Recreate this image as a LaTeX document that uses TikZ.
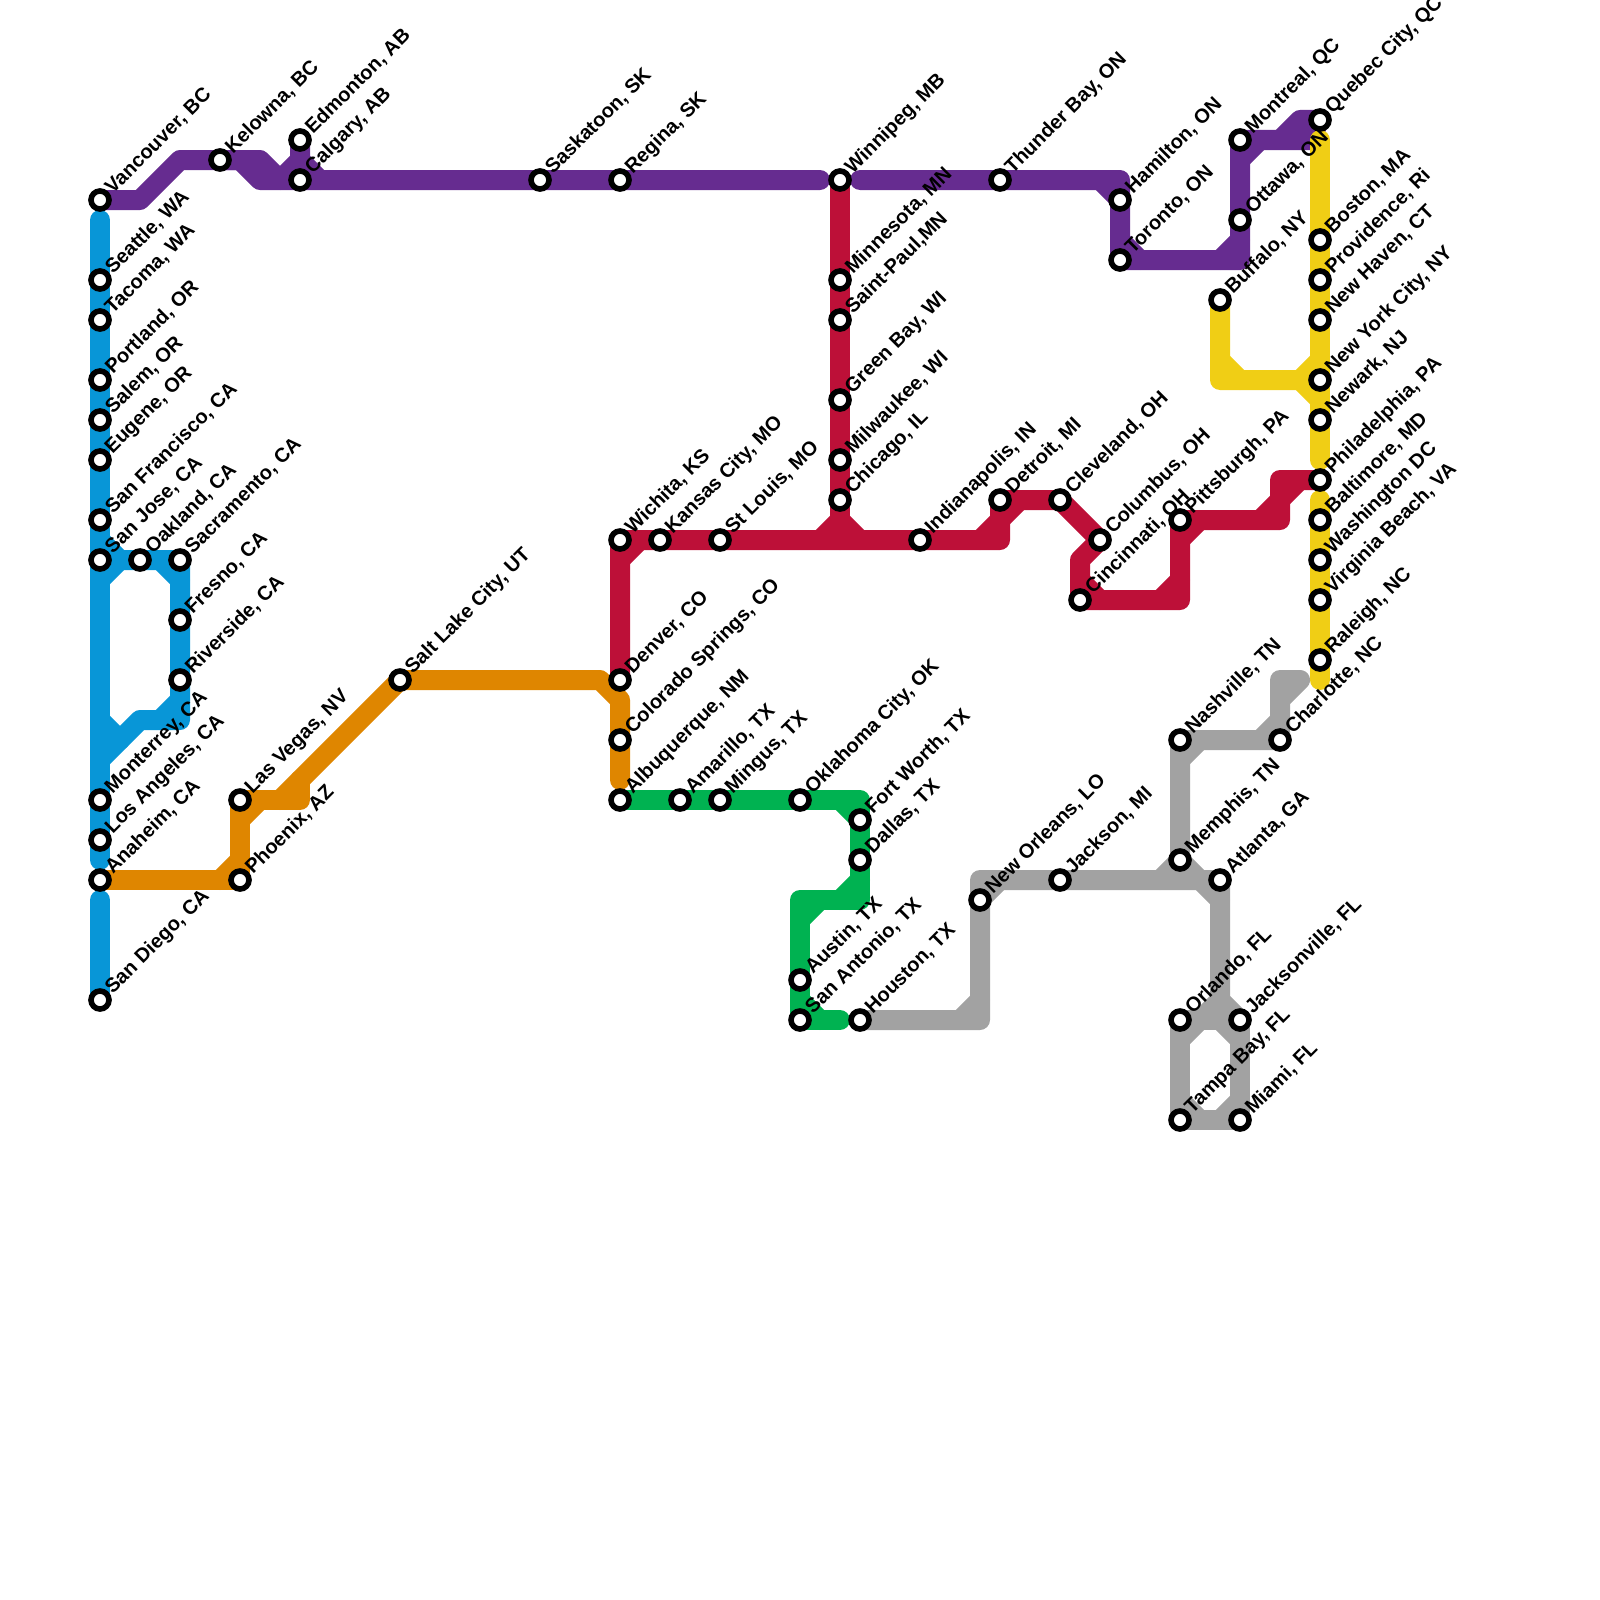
\documentclass[tikz,border=0pt]{standalone}
\usepackage{fontspec}
\setmainfont{Liberation Sans}
\usetikzlibrary{calc,backgrounds}
\definecolor{purpleline}{HTML}{662C90}
\definecolor{blueline}{HTML}{0896D7}
\definecolor{orangeline}{HTML}{DF8600}
\definecolor{redline}{HTML}{BD1038}
\definecolor{greenline}{HTML}{00B251}
\definecolor{yellowline}{HTML}{F0CE15}
\definecolor{grayline}{HTML}{A2A2A2}
\tikzset{
  route/.style={line width=20pt, line cap=round, line join=round},
  purpleroute/.style={route, draw=purpleline},
  blueroute/.style={route, draw=blueline},
  orangeroute/.style={route, draw=orangeline},
  redroute/.style={route, draw=redline},
  greenroute/.style={route, draw=greenline},
  yellowroute/.style={route, draw=yellowline},
  grayroute/.style={route, draw=grayline},
  stopdot/.style={circle, draw=black, fill=white, line width=5.6pt, minimum size=18pt, inner sep=0pt},
  stoptext/.style={rotate=45, anchor=west, inner sep=0pt, font=\fontsize{20}{22}\selectfont\bfseries}
}
\newcommand{\stopat}[3]{\node[stopdot] (#1) at (#2) {}; \node[stoptext] (#1text) at ($(#1)+(9,-9)$) {#3};}
\begin{document}
\begin{tikzpicture}[x=1pt,y=-1pt]
\useasboundingbox (0,0) rectangle (1600,1600);
% purple
\stopat{vancouver}{100,200}{Vancouver, BC}
\stopat{kelowna}{220,160}{Kelowna, BC}
\stopat{edmonton}{300,140}{Edmonton, AB}
\stopat{calgary}{300,180}{Calgary, AB}
\stopat{saskatoon}{540,180}{Saskatoon, SK}
\stopat{regina}{620,180}{Regina, SK}
\stopat{winnipeg}{840,180}{Winnipeg, MB}
\stopat{thunderbay}{1000,180}{Thunder Bay, ON}
\stopat{hamilton}{1120,200}{Hamilton, ON}
\stopat{toronto}{1120,260}{Toronto, ON}
\stopat{ottawa}{1240,220}{Ottawa, ON}
\stopat{montreal}{1240,140}{Montreal, QC}
\stopat{quebec}{1320,120}{Quebec City, QC}
% blue
\stopat{seattle}{100,280}{Seattle, WA}
\stopat{tacoma}{100,320}{Tacoma, WA}
\stopat{portland}{100,380}{Portland, OR}
\stopat{salem}{100,420}{Salem, OR}
\stopat{eugene}{100,460}{Eugene, OR}
\stopat{sanfrancisco}{100,520}{San Francisco, CA}
\stopat{sanjose}{100,560}{San Jose, CA}
\stopat{oakland}{140,560}{Oakland, CA}
\stopat{sacramento}{180,560}{Sacramento, CA}
\stopat{fresno}{180,620}{Fresno, CA}
\stopat{riverside}{180,680}{Riverside, CA}
\stopat{monterrey}{100,800}{Monterrey, CA}
\stopat{losangeles}{100,840}{Los Angeles, CA}
\stopat{anaheim}{100,880}{Anaheim, CA}
\stopat{sandiego}{100,1000}{San Diego, CA}
% orange
\stopat{phoenix}{240,880}{Phoenix, AZ}
\stopat{lasvegas}{240,800}{Las Vegas, NV}
\stopat{saltlake}{400,680}{Salt Lake City, UT}
\stopat{denver}{620,680}{Denver, CO}
\stopat{coloradosprings}{620,740}{Colorado Springs, CO}
\stopat{albuquerque}{620,800}{Albuquerque, NM}
% red
\stopat{wichita}{620,540}{Wichita, KS}
\stopat{kansascity}{660,540}{Kansas City, MO}
\stopat{stlouis}{720,540}{St Louis, MO}
\stopat{minnesota}{840,280}{Minnesota, MN}
\stopat{saintpaul}{840,320}{Saint-Paul,MN}
\stopat{greenbay}{840,400}{Green Bay, WI}
\stopat{milwaukee}{840,460}{Milwaukee, WI}
\stopat{chicago}{840,500}{Chicago, IL}
\stopat{indianapolis}{920,540}{Indianapolis, IN}
\stopat{detroit}{1000,500}{Detroit, MI}
\stopat{cleveland}{1060,500}{Cleveland, OH}
\stopat{columbus}{1100,540}{Columbus, OH}
\stopat{cincinnati}{1080,600}{Cincinnati, OH}
\stopat{pittsburgh}{1180,520}{Pittsburgh, PA}
\stopat{philadelphia}{1320,480}{Philadelphia, PA}
% green
\stopat{amarillo}{680,800}{Amarillo, TX}
\stopat{mingus}{720,800}{Mingus, TX}
\stopat{oklahoma}{800,800}{Oklahoma City, OK}
\stopat{fortworth}{860,820}{Fort Worth, TX}
\stopat{dallas}{860,860}{Dallas, TX}
\stopat{austin}{800,980}{Austin, TX}
\stopat{sanantonio}{800,1020}{San Antonio, TX}
\stopat{houston}{860,1020}{Houston, TX}
% yellow
\stopat{boston}{1320,240}{Boston, MA}
\stopat{providence}{1320,280}{Providence, Ri}
\stopat{newhaven}{1320,320}{New Haven, CT}
\stopat{newyork}{1320,380}{New York City, NY}
\stopat{newark}{1320,420}{Newark, NJ}
\stopat{baltimore}{1320,520}{Baltimore, MD}
\stopat{washington}{1320,560}{Washington DC}
\stopat{virginiabeach}{1320,600}{Virginia Beach, VA}
\stopat{raleigh}{1320,660}{Raleigh, NC}
\stopat{buffalo}{1220,300}{Buffalo, NY}
% gray
\stopat{charlotte}{1280,740}{Charlotte, NC}
\stopat{nashville}{1180,740}{Nashville, TN}
\stopat{memphis}{1180,860}{Memphis, TN}
\stopat{atlanta}{1220,880}{Atlanta, GA}
\stopat{jackson}{1060,880}{Jackson, MI}
\stopat{neworleans}{980,900}{New Orleans, LO}
\stopat{orlando}{1180,1020}{Orlando, FL}
\stopat{jacksonville}{1240,1020}{Jacksonville, FL}
\stopat{tampabay}{1180,1120}{Tampa Bay, FL}
\stopat{miami}{1240,1120}{Miami, FL}
\coordinate (bluetop) at (100,220); \coordinate (blueend) at (100,860); \coordinate (bluesouth) at (100,900);
\coordinate (purplewest) at (820,180); \coordinate (purpleeast) at (860,180);
\coordinate (yellownorth) at (1320,140); \coordinate (yellowmid) at (1320,460);
\coordinate (yellowresume) at (1320,500); \coordinate (yellowend) at (1320,680);
\coordinate (orangeend) at (620,780); \coordinate (greenend) at (840,1020);
\begin{scope}[on background layer]
\draw[blueroute] (bluetop) -- (seattle.center) -- (tacoma.center) -- (portland.center) -- (salem.center) -- (eugene.center) -- (sanfrancisco.center) -- (sanjose.center) -- (monterrey.center) -- (losangeles.center) -- (blueend);
\draw[blueroute] (bluesouth) -- (sandiego.center);
\draw[blueroute] (100,540) -- (120,560) -- (oakland.center) -- (sacramento.center) -- (fresno.center) -- (riverside.center) -- (180,720) -- (140,720) -- (100,760);
\draw[blueroute] (sanjose.center) -- (oakland.center); \draw[blueroute] (100,580) -- (120,560);
\draw[blueroute] (160,560) -- (180,580); \draw[blueroute] (160,720) -- (180,700); \draw[blueroute] (100,720) -- (120,740);
\draw[purpleroute] (vancouver.center) -- (140,200) -- (180,160) -- (kelowna.center) -- (240,160) -- (260,180) -- (calgary.center) -- (saskatoon.center) -- (regina.center) -- (purplewest);
\draw[purpleroute] (kelowna.center) -- (260,160) -- (280,180);
\draw[purpleroute] (edmonton.center) -- (300,160) -- (280,180); \draw[purpleroute] (300,160) -- (320,180);
\draw[purpleroute] (purpleeast) -- (thunderbay.center) -- (1120,180) -- (hamilton.center) -- (toronto.center) -- (1240,260) -- (ottawa.center) -- (montreal.center) -- (1310,140) -- (quebec.center);
\draw[purpleroute] (1100,180) -- (hamilton.center); \draw[purpleroute] (1120,240) -- (1140,260);
\draw[purpleroute] (1220,260) -- (1240,240); \draw[purpleroute] (1240,160) -- (1260,140); \draw[purpleroute] (1280,140) -- (1300,120) -- (quebec.center);
\draw[orangeroute] (anaheim.center) -- (phoenix.center) -- (lasvegas.center) -- (300,800) -- (300,780);
\draw[orangeroute] (220,880) -- (240,860); \draw[orangeroute] (260,800) -- (240,820);
\draw[orangeroute] (280,800) -- (saltlake.center) -- (600,680) -- (620,700) -- (coloradosprings.center) -- (orangeend);
\draw[yellowroute] (yellownorth) -- (boston.center) -- (providence.center) -- (newhaven.center) -- (newyork.center) -- (newark.center) -- (yellowmid);
\draw[yellowroute] (yellowresume) -- (baltimore.center) -- (washington.center) -- (virginiabeach.center) -- (raleigh.center) -- (yellowend);
\draw[yellowroute] (buffalo.center) -- (1220,380) -- (1300,380) -- (1320,360); \draw[yellowroute] (1220,360) -- (1240,380); \draw[yellowroute] (1300,380) -- (1320,400);
\draw[redroute] (winnipeg.center) -- (minnesota.center) -- (saintpaul.center) -- (greenbay.center) -- (milwaukee.center) -- (chicago.center) -- (840,540);
\draw[redroute] (denver.center) -- (wichita.center) -- (kansascity.center) -- (stlouis.center) -- (indianapolis.center) -- (1000,540) -- (detroit.center) -- (cleveland.center) -- (columbus.center) -- (1080,560) -- (cincinnati.center) -- (1180,600) -- (pittsburgh.center) -- (1280,520) -- (1280,480) -- (philadelphia.center);
\draw[redroute] (620,560) -- (640,540); \draw[redroute] (820,540) -- (840,520) -- (860,540);
\draw[redroute] (980,540) -- (1000,520) -- (1020,500);
\draw[redroute] (1080,580) -- (1100,600); \draw[redroute] (1160,600) -- (1180,580); \draw[redroute] (1180,540) -- (1200,520);
\draw[redroute] (1260,520) -- (1280,500) -- (1300,480);
\draw[greenroute] (albuquerque.center) -- (amarillo.center) -- (mingus.center) -- (oklahoma.center) -- (860,800) -- (fortworth.center) -- (dallas.center) -- (860,900) -- (800,900) -- (austin.center) -- (sanantonio.center) -- (greenend);
\draw[greenroute] (840,800) -- (fortworth.center); \draw[greenroute] (840,900) -- (860,880);
\draw[greenroute] (800,920) -- (820,900); \draw[greenroute] (800,1000) -- (820,1020);
\draw[grayroute] (houston.center) -- (980,1020) -- (980,880) -- (jackson.center) -- (atlanta.center) -- (1220,1000) -- (1240,1020);
\draw[grayroute] (960,1020) -- (980,1000); \draw[grayroute] (neworleans.center) -- (1000,880);
\draw[grayroute] (1160,880) -- (memphis.center) -- (1200,880) -- (1220,900);
\draw[grayroute] (memphis.center) -- (nashville.center) -- (charlotte.center) -- (1280,680) -- (1300,680) -- (1280,700);
\draw[grayroute] (1180,760) -- (1200,740); \draw[grayroute] (1260,740) -- (1280,720);
\draw[grayroute] (orlando.center) -- (jacksonville.center) -- (miami.center) -- (tampabay.center) -- (orlando.center);
\draw[grayroute] (1200,1020) -- (1220,1000); \draw[grayroute] (1180,1040) -- (1200,1020); \draw[grayroute] (1220,1020) -- (1240,1040);
\draw[grayroute] (1180,1100) -- (1200,1120); \draw[grayroute] (1220,1120) -- (1240,1100);
\end{scope}
\end{tikzpicture}
\end{document}
